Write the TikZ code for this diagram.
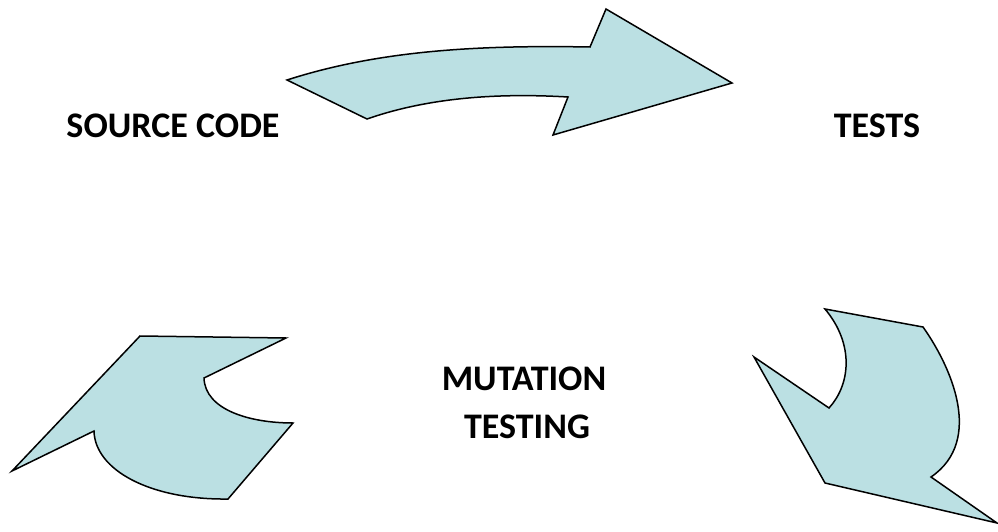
\documentclass[tikz,border=0pt]{standalone}
\usepackage{fontspec}
\setmainfont{Carlito}
\definecolor{arrowfill}{RGB}{187,224,227}
\tikzset{
  blockarrow/.style={draw=black, fill=arrowfill, line width=1.5pt, line join=miter},
  label/.style={font=\fontsize{36}{48}\selectfont\bfseries, anchor=base, inner sep=0pt}
}

\begin{document}
\begin{tikzpicture}[x=1pt,y=-1pt]
\useasboundingbox (0,0) rectangle (998,532);
% labels
\draw (173,137) node[label] (src) {SOURCE CODE};
\draw (877,138) node[label] (tst) {TESTS};
\draw (524,390) node[label] (mut) {MUTATION};
\draw (527,438) node[label] (mtst) {TESTING};
% top arrow
\draw[blockarrow] (287,80) -- (367,119)
  .. controls (430,97) and (500,93) .. (568,97)
  -- (553,135) -- (732,83) -- (606,9) -- (590,47)
  .. controls (480,45) and (380,50) .. cycle;
% right arrow
\draw[blockarrow] (825,309) -- (923,327)
  .. controls (950,365) and (985,440) .. (931,477)
  -- (997,523) -- (825,483) -- (754,357) -- (829,408)
  .. controls (850,385) and (855,345) .. cycle;
% left arrow
\draw[blockarrow] (140,336) -- (286,338) -- (204,378)
  .. controls (205,410) and (250,423) .. (293,423)
  -- (228,499)
  .. controls (150,500) and (95,470) .. (94,431)
  -- (12,471) -- cycle;
\end{tikzpicture}
\end{document}
